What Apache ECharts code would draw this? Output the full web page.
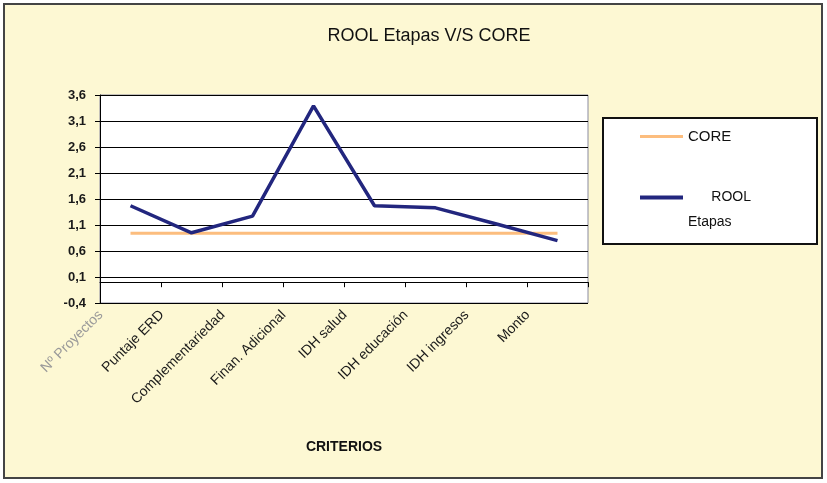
<!DOCTYPE html>
<html><head><meta charset="utf-8">
<script src="https://cdn.jsdelivr.net/npm/echarts@6/dist/echarts.min.js"></script>
<style>html,body{margin:0;padding:0;background:#fff}#c{width:827px;height:483px}</style>
</head><body><div id="c"></div>
<script>
const categories = ['Nº Proyectos','Puntaje ERD','Complementariedad','Finan. Adicional','IDH salud','IDH educación','IDH ingresos','Monto'];
const roolEtapas = [1.47, 0.95, 1.27, 3.39, 1.47, 1.43, 1.12, 0.80];
const core = [0.94, 0.94, 0.94, 0.94, 0.94, 0.94, 0.94, 0.94];
const yTickLabels = ['-0,4','0,1','0,6','1,1','1,6','2,1','2,6','3,1','3,6'];
const yMin = -0.4, yMax = 3.6, yStep = 0.5;

const FONT = 'Liberation Sans, Arial, sans-serif';
const chart = echarts.init(document.getElementById('c'));
chart.setOption({
  animation: false,
  textStyle: {fontFamily: FONT},
  title: {
    text: 'ROOL Etapas V/S CORE',
    left: 424, top: 22, textAlign: 'center',
    textStyle: {fontFamily: FONT, fontSize: 18, fontWeight: 'normal', color: '#111'}
  },
  graphic: [
    {type: 'rect', z: -10, shape: {x: 4, y: 4, width: 818, height: 474},
     style: {fill: '#fdf8d3', stroke: '#444', lineWidth: 2}},
    {type: 'rect', z: 1, shape: {x: 603, y: 118, width: 214, height: 126},
     style: {fill: '#ffffff', stroke: '#111', lineWidth: 2}}
  ],
  legend: [
    {data: ['CORE'], left: 635, top: 124, icon: 'rect', itemWidth: 43, itemHeight: 3,
     textStyle: {fontFamily: FONT, fontSize: 15, color: '#111'}},
    {data: ['ROOL Etapas'], left: 635, top: 155, icon: 'rect', itemWidth: 43, itemHeight: 4,
     formatter: () => '\n      ROOL\nEtapas',
     textStyle: {fontFamily: FONT, fontSize: 14, color: '#111', lineHeight: 25}}
  ],
  grid: {left: 100, right: 239, top: 95, bottom: 180, show: true,
         backgroundColor: '#ffffff', borderColor: '#8a8aa0', borderWidth: 1},
  xAxis: [
    {type: 'category', data: categories, boundaryGap: true,
     axisLine: {onZero: true, lineStyle: {color: '#000', width: 1}},
     axisTick: {show: true, interval: 0, length: 5, lineStyle: {color: '#000'}},
     axisLabel: {show: false}, splitLine: {show: false}},
    {type: 'category', data: categories.map((c, i) => i === 0
        ? {value: c, textStyle: {color: '#9a9a9a'}} : c),
     position: 'bottom', boundaryGap: true,
     axisLine: {show: false, onZero: false}, axisTick: {show: false},
     axisLabel: {interval: 0, rotate: 45, fontSize: 14, color: '#1a1a1a', fontFamily: FONT, margin: -20, padding: [0, 42, 0, 0]},
     name: 'CRITERIOS', nameLocation: 'middle', nameGap: 137,
     nameTextStyle: {fontFamily: FONT, fontSize: 14, fontWeight: 'bold', color: '#111'}}
  ],
  yAxis: {
    type: 'value', min: yMin, max: yMax, interval: yStep,
    axisLine: {show: true, lineStyle: {color: '#000'}},
    axisTick: {show: true, length: 5, lineStyle: {color: '#000'}},
    axisLabel: {fontSize: 13, fontWeight: 'bold', color: '#1a1a1a', margin: 14, fontFamily: FONT,
      formatter: v => yTickLabels[Math.round((v - yMin) / yStep)]},
    splitLine: {show: true, lineStyle: {color: '#000', width: 1}}
  },
  series: [
    {name: 'CORE', type: 'line', data: core, showSymbol: false, symbol: 'none',
     lineStyle: {color: '#fcbd7e', width: 3}, itemStyle: {color: '#fcbd7e'}, z: 3},
    {name: 'ROOL Etapas', type: 'line', data: roolEtapas, showSymbol: false, symbol: 'none',
     lineStyle: {color: '#22267e', width: 3.5}, itemStyle: {color: '#22267e'}, z: 4}
  ]
});
</script></body></html>
